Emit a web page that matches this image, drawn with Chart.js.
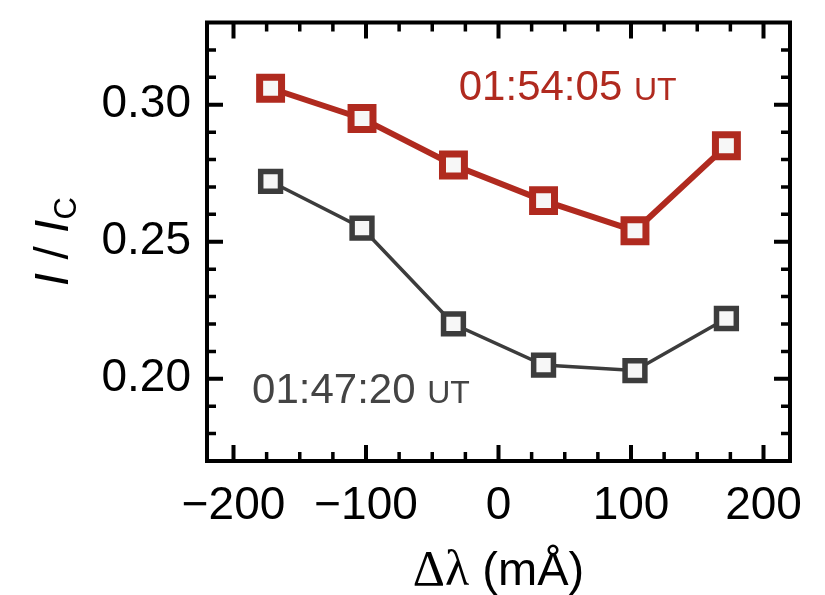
<!DOCTYPE html>
<html>
<head>
<meta charset="utf-8">
<script src="https://cdn.jsdelivr.net/npm/chart.js@4/dist/chart.umd.min.js"></script>
<style>
  html, body { margin: 0; padding: 0; background: #fff; }
  #c { display: block; }
</style>
</head>
<body>
<canvas id="c" width="825" height="595"></canvas>
<script>
// ====================================================== DATA ====================================================== //

const dLambda   = [-172, -103, -34, 34, 103, 172];
const intLate   = [0.306, 0.295, 0.278, 0.265, 0.254, 0.285];   // 01:54:05 UT
const intEarly  = [0.272, 0.255, 0.220, 0.205, 0.203, 0.222];   // 01:47:20 UT
const xTicks    = [-200, -100, 0, 100, 200];
const xTickText = ['\u2212200', '\u2212100', '0', '100', '200'];
const yTicks    = [0.20, 0.25, 0.30];
const yTickText = ['0.20', '0.25', '0.30'];
const lateName  = '01:54:05', earlyName = '01:47:20';

// ===================================================== STYLE ====================================================== //

const red = '#b02a1f', gray = '#3c3c3c', fill = '#f7f7f7';
const sans = '"Liberation Sans", Arial, sans-serif';

// annotation anchors in data units (left edge, vertical middle)
const notes = [
  {x: -30,  y: 0.306, main: lateName,  color: red},
  {x: -186, y: 0.1955, main: earlyName, color: '#444'}
];

// frame, inward ticks on all sides, titles and annotations
const frame = {
  id: 'frame',
  afterDraw(chart) {
    const {ctx, chartArea: a, scales: {x, y}} = chart;
    ctx.save();
    ctx.strokeStyle = '#000';
    ctx.lineWidth = 4;
    ctx.strokeRect(a.left, a.top, a.right - a.left, a.bottom - a.top);

    const tick = (px, len, w, vert) => {
      ctx.lineWidth = w;
      ctx.beginPath();
      if (vert) {
        ctx.moveTo(px, a.bottom); ctx.lineTo(px, a.bottom - len);
        ctx.moveTo(px, a.top);    ctx.lineTo(px, a.top + len);
      } else {
        ctx.moveTo(a.left, px);  ctx.lineTo(a.left + len, px);
        ctx.moveTo(a.right, px); ctx.lineTo(a.right - len, px);
      }
      ctx.stroke();
    };
    for (let v = -200; v <= 200; v += 25) {
      const major = v % 100 === 0;
      tick(x.getPixelForValue(v), major ? 16 : 9, major ? 4 : 3.5, true);
    }
    for (let k = 18; k <= 32; k++) {
      const major = k % 5 === 0;
      tick(y.getPixelForValue(k / 100), major ? 16 : 9, major ? 4 : 3.5, false);
    }

    // annotations
    ctx.textBaseline = 'middle';
    ctx.textAlign = 'left';
    notes.forEach(n => {
      const px = x.getPixelForValue(n.x), py = y.getPixelForValue(n.y);
      ctx.fillStyle = n.color;
      ctx.font = '42px ' + sans;
      ctx.fillText(n.main, px, py);
      const w = ctx.measureText(n.main + ' ').width;
      ctx.font = '32px ' + sans;
      ctx.fillText('UT', px + w, py + 3);
    });

    // x title: Δλ (mÅ)
    ctx.fillStyle = '#000';
    ctx.textBaseline = 'alphabetic';
    ctx.font = '50px "Liberation Serif", serif';
    const t1 = '\u0394\u03bb', t2 = ' (m\u00c5)';
    const w1 = ctx.measureText(t1).width;
    ctx.font = '47px ' + sans;
    const w2 = ctx.measureText(t2).width;
    let tx = (a.left + a.right) / 2 - (w1 + w2) / 2;
    ctx.font = '50px "Liberation Serif", serif';
    ctx.fillText(t1, tx, 585);
    ctx.font = '47px ' + sans;
    ctx.fillText(t2, tx + w1, 585);

    // y title: I / I_C (rotated)
    ctx.translate(68, (a.top + a.bottom) / 2);
    ctx.rotate(-Math.PI / 2);
    const parts = [['I', 'italic 48px ' + sans, 0], [' / ', '48px ' + sans, 0],
                   ['I', 'italic 48px ' + sans, 0], ['C', '31px ' + sans, 8]];
    let total = 0;
    parts.forEach(p => { ctx.font = p[1]; total += ctx.measureText(p[0]).width; });
    let cx = -total / 2;
    parts.forEach(p => {
      ctx.font = p[1];
      ctx.fillText(p[0], cx, p[2]);
      cx += ctx.measureText(p[0]).width;
    });
    ctx.restore();
  }
};

// ===================================================== CHART ====================================================== //

const series = (vals, color, lw, r, bw) => ({
  data: dLambda.map((v, i) => ({x: v, y: vals[i]})),
  borderColor: color, borderWidth: lw,
  pointStyle: 'rect', pointRadius: r, pointBorderWidth: bw,
  pointBorderColor: color, pointBackgroundColor: fill,
  tension: 0, clip: false
});

new Chart(document.getElementById('c'), {
  type: 'line',
  data: {
    datasets: [
      series(intEarly, gray, 3.5, 14, 5.5),
      series(intLate, red, 6, 15.5, 7)
    ]
  },
  options: {
    responsive: false,
    animation: false,
    events: [],
    layout: { padding: {top: 15, right: 35, left: 0, bottom: 0} },
    plugins: { legend: { display: false }, tooltip: { enabled: false } },
    scales: {
      x: {
        type: 'linear', min: -220, max: 220,
        grid: { display: false }, border: { display: false },
        afterBuildTicks: s => { s.ticks = xTicks.map(v => ({value: v})); },
        afterFit: s => { s.height = 134; s.paddingLeft = 0; s.paddingRight = 0; },
        ticks: {
          color: '#000', padding: 10, maxRotation: 0,
          font: { family: sans, size: 46 },
          callback: v => xTickText[xTicks.indexOf(v)]
        }
      },
      y: {
        type: 'linear', min: 0.17, max: 0.33,
        grid: { display: false }, border: { display: false },
        afterBuildTicks: s => { s.ticks = yTicks.map(v => ({value: v})); },
        afterFit: s => { s.width = 207; s.paddingTop = 0; s.paddingBottom = 0; },
        ticks: {
          color: '#000', padding: 8,
          font: { family: sans, size: 46 },
          callback: v => yTickText[yTicks.findIndex(t => Math.abs(t - v) < 1e-9)]
        }
      }
    }
  },
  plugins: [frame]
});
</script>
</body>
</html>
